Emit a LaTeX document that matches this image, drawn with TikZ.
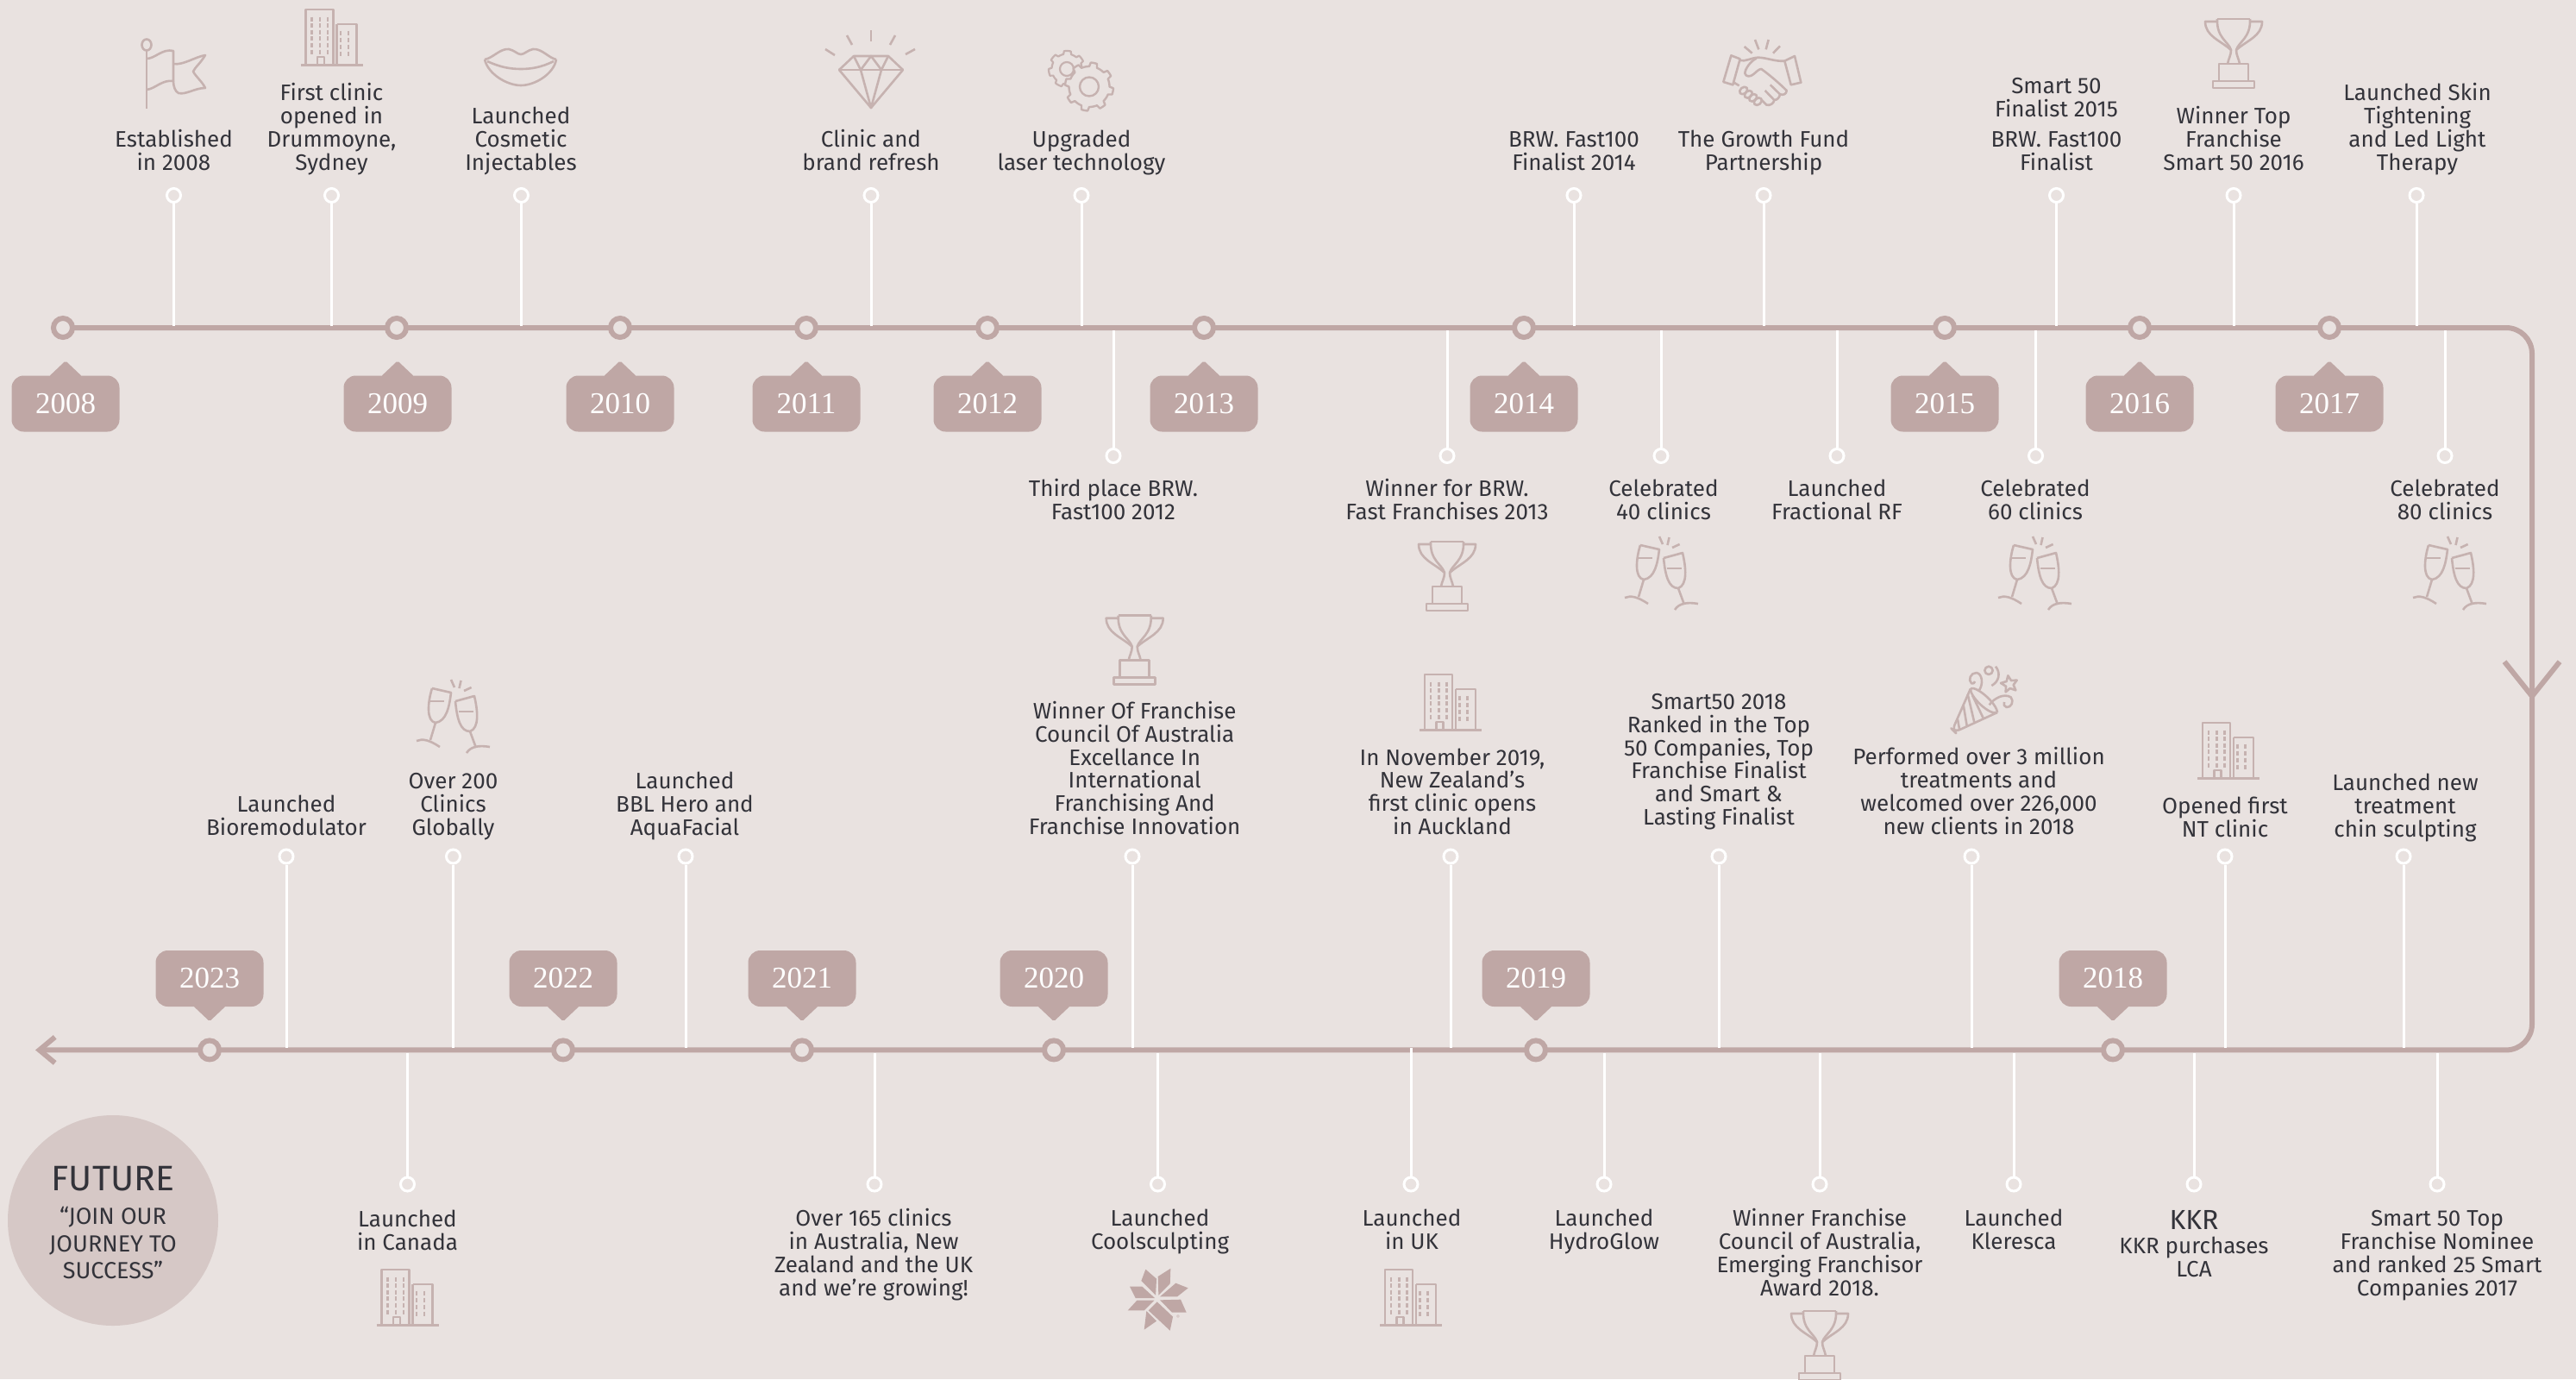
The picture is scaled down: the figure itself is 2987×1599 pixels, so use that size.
\documentclass[tikz,border=0pt]{standalone}
\usepackage{fontspec}
\setsansfont{Fira Sans}
\newfontfamily\yearfont{Liberation Serif}
\usepackage{tikz}
\usetikzlibrary{arrows.meta,positioning,calc}

\definecolor{pagecol}{HTML}{E9E2E0}
\definecolor{linecol}{HTML}{BFA7A5}
\definecolor{iconcol}{HTML}{C6B2B0}
\definecolor{inkcol}{HTML}{33333A}
\definecolor{futurecol}{HTML}{D6C8C6}

\newcommand{\evfont}{\sffamily\fontsize{26}{26.8}\selectfont}

\tikzset{
  mainline/.style={draw=linecol, line width=6pt},
  stem/.style={draw=white, line width=3pt},
  dot/.style={circle, draw=white, line width=3pt, fill=pagecol, minimum size=16pt, inner sep=0pt},
  yearring/.style={circle, draw=linecol, line width=6pt, fill=pagecol, minimum size=22pt, inner sep=0pt},
  yeartag/.style={rectangle, rounded corners=14pt, fill=linecol, text=white, minimum width=125pt, minimum height=65pt, inner sep=0pt, font=\yearfont\fontsize{35}{35}\selectfont},
  evt/.style={font=\evfont, align=center, anchor=base, text=inkcol, inner sep=0pt, yshift=-1.5pt},
  icon/.style={draw=iconcol, line width=2.6pt, line join=round},
  pics/tower/.style={code={
    \draw[icon, line width=3.2pt] (-36,-1.5) -- (36,-1.5);
    \draw[icon] (-30,-1.5) -- (-30,-66) -- (2,-66) -- (2,-1.5);
    \draw[icon] (6,-49) -- (29,-49) -- (29,-1.5);
    \draw[icon] (6,-49) -- (6,-1.5);
    \draw[icon] (-16.5,-1.5) -- (-16.5,-11) -- (-8.5,-11) -- (-8.5,-1.5);
    \foreach \wx in {-23,-13.5,-4.5} \foreach \wy in {-55,-47.4,-39.8,-32.2,-24.6,-17}
      \draw[icon, line width=2.8pt] (\wx,\wy-2.5) -- (\wx,\wy+2.5);
    \foreach \wx in {10.5,19.5} \foreach \wy in {-39,-31,-23,-15}
      \draw[icon, line width=2.8pt] (\wx,\wy-2.5) -- (\wx,\wy+2.5);
  }},
  pics/trophy/.style={code={
    \draw[icon] (-24,-8) rectangle (24,0);
    \draw[icon] (-17,-28) rectangle (17,-8);
    \draw[icon] (-19,-80) -- (19,-80);
    \draw[icon] (-19,-80) .. controls (-20,-58) and (-6,-54) .. (-3,-44) .. controls (-3,-38) and (-6,-34) .. (-7,-28);
    \draw[icon] (19,-80) .. controls (20,-58) and (6,-54) .. (3,-44) .. controls (3,-38) and (6,-34) .. (7,-28);
    \draw[icon] (-19,-77) -- (-33,-77) .. controls (-33,-60) and (-15,-55) .. (-3,-44);
    \draw[icon] (19,-77) -- (33,-77) .. controls (33,-60) and (15,-55) .. (3,-44);
  }},
  pics/toast/.style={code={
    \draw[icon] (-25,-76) -- (-3,-71) .. controls (-5,-55) and (-8,-38) .. (-21,-36) .. controls (-32,-38) and (-30,-60) .. (-25,-76);
    \draw[icon] (-27,-61) -- (-11,-61);
    \draw[icon] (-21,-36) -- (-27,-16);
    \draw[icon] (-43,-15) .. controls (-36,-18) and (-28,-16) .. (-16,-8);
    \draw[icon] (2,-61) -- (24,-67) .. controls (28,-50) and (30,-30) .. (19,-26) .. controls (8,-26) and (4,-40) .. (2,-61);
    \draw[icon] (6,-49) -- (23,-49);
    \draw[icon] (19,-26) -- (26,-7);
    \draw[icon] (15,-1) .. controls (20,-9) and (30,-10) .. (42,-8);
    \draw[icon] (-3,-86) -- (1,-77);
    \draw[icon] (8.5,-85) -- (6.5,-76);
    \draw[icon] (20.6,-77) -- (12,-73);
  }}
}

\begin{document}
\begin{tikzpicture}[x=1pt, y=-1pt]

\useasboundingbox (0,0) rectangle (2987,1599);
\fill[pagecol] (0,0) rectangle (2987,1599);

% The road: top row, round the corner, bottom row

\coordinate (roadstart) at (73,380);
\coordinate (cornerA) at (2936,380);
\coordinate (cornerB) at (2936,1217.4);
\coordinate (roadend) at (41,1217.4);
\coordinate (midtip) at (2936,812);

\draw[mainline, rounded corners=30pt, -{Straight Barb[length=18pt,width=30pt]}] (roadstart) -- (cornerA) -- (cornerB) -- (roadend);
\draw[mainline, -{Straight Barb[length=40pt,width=64pt]}] (2936,700) -- (midtip);

\coordinate (upA) at (0,377.5);
\coordinate (dnA) at (0,383);
\coordinate (upB) at (0,1214.7);
\coordinate (dnB) at (0,1220.5);

% Years along the top row

\node[yearring] (y2008) at (73,380) {};
\node[yearring] (y2009) at (460,380) {};
\node[yearring] (y2010) at (719,380) {};
\node[yearring] (y2011) at (935,380) {};
\node[yearring] (y2012) at (1145,380) {};
\node[yearring] (y2013) at (1396,380) {};
\node[yearring] (y2014) at (1767,380) {};
\node[yearring] (y2015) at (2255,380) {};
\node[yearring] (y2016) at (2481,380) {};
\node[yearring] (y2017) at (2701,380) {};

\node[yeartag] (t2008) at (76,468) {2008};
\node[yeartag] (t2009) at (461,468) {2009};
\node[yeartag] (t2010) at (719,468) {2010};
\node[yeartag] (t2011) at (935,468) {2011};
\node[yeartag] (t2012) at (1145,468) {2012};
\node[yeartag] (t2013) at (1396,468) {2013};
\node[yeartag] (t2014) at (1767,468) {2014};
\node[yeartag] (t2015) at (2255,468) {2015};
\node[yeartag] (t2016) at (2481,468) {2016};
\node[yeartag] (t2017) at (2701,468) {2017};

\foreach \tg in {t2008,t2009,t2010,t2011,t2012,t2013,t2014,t2015,t2016,t2017}
  \fill[linecol, rounded corners=2pt] ([xshift=-19pt,yshift=-1pt]\tg.north) -- ++(19,-18) -- ++(19,18) -- cycle;

% Years along the bottom row

\node[yearring] (y2023) at (243,1217.4) {};
\node[yearring] (y2022) at (653,1217.4) {};
\node[yearring] (y2021) at (930,1217.4) {};
\node[yearring] (y2020) at (1222,1217.4) {};
\node[yearring] (y2019) at (1781,1217.4) {};
\node[yearring] (y2018) at (2450,1217.4) {};

\node[yeartag] (t2023) at (243,1134.5) {2023};
\node[yeartag] (t2022) at (653,1134.5) {2022};
\node[yeartag] (t2021) at (930,1134.5) {2021};
\node[yeartag] (t2020) at (1222,1134.5) {2020};
\node[yeartag] (t2019) at (1781,1134.5) {2019};
\node[yeartag] (t2018) at (2450,1134.5) {2018};

\foreach \tg in {t2023,t2022,t2021,t2020,t2019,t2018}
  \fill[linecol, rounded corners=2pt] ([xshift=-19pt,yshift=1pt]\tg.south) -- ++(19,18) -- ++(19,-18) -- cycle;

% Top row, above the road

\node[dot] (a1) at (201.5,226.5) {};
\node[dot] (a2) at (384.5,226.5) {};
\node[dot] (a3) at (604.5,226.5) {};
\node[dot] (a4) at (1010,226.5) {};
\node[dot] (a5) at (1254,226.5) {};
\node[dot] (a6) at (1825,226.5) {};
\node[dot] (a7) at (2045,226.5) {};
\node[dot] (a8) at (2384.5,226.5) {};
\node[dot] (a9) at (2590,226.5) {};
\node[dot] (a10) at (2802,226.5) {};

\draw[stem] (a1) -- (a1 |- upA);
\draw[stem] (a2) -- (a2 |- upA);
\draw[stem] (a3) -- (a3 |- upA);
\draw[stem] (a4) -- (a4 |- upA);
\draw[stem] (a5) -- (a5 |- upA);
\draw[stem] (a6) -- (a6 |- upA);
\draw[stem] (a7) -- (a7 |- upA);
\draw[stem] (a8) -- (a8 |- upA);
\draw[stem] (a9) -- (a9 |- upA);
\draw[stem] (a10) -- (a10 |- upA);

\node[evt] (ta1) at (201.5,195.6) {Established\\in 2008};
\node[evt] (ta2) at (384.5,195.6) {First clinic\\opened in\\Drummoyne,\\Sydney};
\node[evt] (ta3) at (604,195.6) {Launched\\Cosmetic\\Injectables};
\node[evt] (ta4) at (1010,195.6) {Clinic and\\brand refresh};
\node[evt] (ta5) at (1254,195.6) {Upgraded\\laser technology};
\node[evt] (ta6) at (1825,195.6) {BRW. Fast100\\Finalist 2014};
\node[evt] (ta7) at (2045,195.6) {The Growth Fund\\Partnership};
\node[evt] (ta8) at (2384.5,196) {BRW. Fast100\\Finalist};
\node[evt] (ta8b) at (2384.5,134) {Smart 50\\Finalist 2015};
\node[evt] (ta9) at (2590,195.6) {Winner Top\\Franchise\\Smart 50 2016};
\node[evt] (ta10) at (2803,195.6) {Launched Skin\\Tightening\\and Led Light\\Therapy};

% Top row, below the road

\node[dot] (b1) at (1291,528.5) {};
\node[dot] (b2) at (1678,528.5) {};
\node[dot] (b3) at (1926,528.5) {};
\node[dot] (b4) at (2130,528.5) {};
\node[dot] (b5) at (2360.5,528.5) {};
\node[dot] (b6) at (2835,528.5) {};

\draw[stem] (b1) -- (b1 |- dnA);
\draw[stem] (b2) -- (b2 |- dnA);
\draw[stem] (b3) -- (b3 |- dnA);
\draw[stem] (b4) -- (b4 |- dnA);
\draw[stem] (b5) -- (b5 |- dnA);
\draw[stem] (b6) -- (b6 |- dnA);

\node[evt] (tb1) at (1291,600.7) {Third place BRW.\\Fast100 2012};
\node[evt] (tb2) at (1678,600.7) {Winner for BRW.\\Fast Franchises 2013};
\node[evt] (tb3) at (1929,600.7) {Celebrated\\40 clinics};
\node[evt] (tb4) at (2130,600.7) {Launched\\Fractional RF};
\node[evt] (tb5) at (2360,600.7) {Celebrated\\60 clinics};
\node[evt] (tb6) at (2835,600.7) {Celebrated\\80 clinics};

% Bottom row, above the road

\node[dot] (c1) at (332,993) {};
\node[dot] (c2) at (525.5,993) {};
\node[dot] (c3) at (795,993) {};
\node[dot] (c4) at (1313,993) {};
\node[dot] (c5) at (1682,993) {};
\node[dot] (c6) at (1993,993) {};
\node[dot] (c7) at (2286,993) {};
\node[dot] (c8) at (2580,993) {};
\node[dot] (c9) at (2787,993) {};

\draw[stem] (c1) -- (c1 |- upB);
\draw[stem] (c2) -- (c2 |- upB);
\draw[stem] (c3) -- (c3 |- upB);
\draw[stem] (c4) -- (c4 |- upB);
\draw[stem] (c5) -- (c5 |- upB);
\draw[stem] (c6) -- (c6 |- upB);
\draw[stem] (c7) -- (c7 |- upB);
\draw[stem] (c8) -- (c8 |- upB);
\draw[stem] (c9) -- (c9 |- upB);

\node[evt] (tc1) at (332,967) {Launched\\Bioremodulator};
\node[evt] (tc2) at (525.5,967) {Over 200\\Clinics\\Globally};
\node[evt] (tc3) at (794,967) {Launched\\BBL Hero and\\AquaFacial};
\node[evt] (tc4) at (1315.7,966) {Winner Of Franchise\\Council Of Australia\\Excellance In\\International\\Franchising And\\Franchise Innovation};
\node[evt] (tc5) at (1684,966) {In November 2019,\\New Zealand’s\\first clinic opens\\in Auckland};
\node[evt] (tc6) at (1993,955) {Smart50 2018\\Ranked in the Top\\50 Companies, Top\\Franchise Finalist\\and Smart \&\\Lasting Finalist};
\node[evt] (tc7) at (2294.5,965.7) {Performed over 3 million\\treatments and\\welcomed over 226,000\\new clients in 2018};
\node[evt] (tc8) at (2580,969) {Opened first\\NT clinic};
\node[evt] (tc9) at (2789,969) {Launched new\\treatment\\chin sculpting};

% Bottom row, below the road

\node[dot] (d1) at (472.5,1373) {};
\node[dot] (d2) at (1014,1373) {};
\node[dot] (d3) at (1342.5,1373) {};
\node[dot] (d4) at (1636,1373) {};
\node[dot] (d5) at (1860,1373) {};
\node[dot] (d6) at (2110,1373) {};
\node[dot] (d7) at (2335,1373) {};
\node[dot] (d8) at (2544,1373) {};
\node[dot] (d9) at (2826,1373) {};

\draw[stem] (d1) -- (d1 |- dnB);
\draw[stem] (d2) -- (d2 |- dnB);
\draw[stem] (d3) -- (d3 |- dnB);
\draw[stem] (d4) -- (d4 |- upB);
\draw[stem] (d5) -- (d5 |- dnB);
\draw[stem] (d6) -- (d6 |- dnB);
\draw[stem] (d7) -- (d7 |- dnB);
\draw[stem] (d8) -- (d8 |- dnB);
\draw[stem] (d9) -- (d9 |- dnB);

\node[evt] (td1) at (472.5,1448) {Launched\\in Canada};
\node[evt] (td2) at (1013,1500.7) {Over 165 clinics\\in Australia, New\\Zealand and the UK\\and we’re growing!};
\node[evt] (td3) at (1345,1447) {Launched\\Coolsculpting};
\node[evt] (td4) at (1637,1447) {Launched\\in UK};
\node[evt] (td5) at (1860,1447) {Launched\\HydroGlow};
\node[evt] (td6) at (2110,1500.7) {Winner Franchise\\Council of Australia,\\Emerging Franchisor\\Award 2018.};
\node[evt] (td7) at (2335,1447) {Launched\\Kleresca};
\node[evt, font=\sffamily\fontsize{32}{32}\selectfont] (td8b) at (2544,1424) {KKR};
\node[evt] (td8) at (2544,1479) {KKR purchases\\LCA};
\node[evt] (td9) at (2826,1500.7) {Smart 50 Top\\Franchise Nominee\\and ranked 25 Smart\\Companies 2017};

% Future

\node[circle, fill=futurecol, minimum size=244pt, inner sep=0pt] (future) at (131,1415) {};
\node[evt, font=\sffamily\fontsize{41}{41}\selectfont] (futurehead) at (131,1379) {FUTURE};
\node[evt, font=\sffamily\fontsize{27}{31.3}\selectfont] (futurequote) at (131,1481) {“JOIN OUR\\JOURNEY TO\\SUCCESS”};

% Icons, top row

% flag
\draw[icon] (170,58) -- (170,126);
\draw[icon] (170,52) ellipse (5.5 and 6.5);
\draw[icon] (170,68) .. controls (180,68) and (188,56) .. (201,59) -- (201,94) .. controls (188,92) and (180,103) .. (170,104);
\draw[icon] (201,74) .. controls (212,76) and (226,66) .. (238,64) .. controls (232,74) and (226,78) .. (224,83) .. controls (228,90) and (234,94) .. (238,102) .. controls (226,102) and (216,110) .. (207,108) .. controls (203,106) and (201,100) .. (201,94);

\pic at (384.5,77) {tower};

% lips
\draw[icon] (562,69) .. controls (572,67) and (580,56) .. (590,57) .. controls (596,58) and (600,63) .. (604,63) .. controls (608,63) and (612,58) .. (618,57) .. controls (628,56) and (636,67) .. (645,69);
\draw[icon] (562,69) .. controls (566,86) and (588,99) .. (604,99) .. controls (620,99) and (642,86) .. (645,69);
\draw[icon] (565,71) .. controls (580,78) and (592,80) .. (604,80) .. controls (616,80) and (628,78) .. (642,71);

% diamond
\draw[icon] (990,65) -- (1030,65) -- (1047,81) -- (1010,125) -- (973,81) -- cycle;
\draw[icon] (973,81) -- (1047,81);
\draw[icon] (990,65) -- (998,81) -- (1010,125) -- (1022,81) -- (1030,65);
\draw[icon] (998,81) -- (1010,65) -- (1022,81);
\draw[icon] (957,57) -- (968,64);
\draw[icon] (982,41) -- (988,52);
\draw[icon] (1010,35) -- (1010,48);
\draw[icon] (1038,41) -- (1032,52);
\draw[icon] (1061,57) -- (1050,63);

% gears
\draw[icon, line width=2.2pt, shift={(1237,80)}] plot[domain=0:360, samples=85] (\x:{17.5+3.5*(sin(7*\x)>0?1:0)}) -- cycle;
\draw[icon, line width=2.2pt] (1237,80) circle (8);
\draw[icon, fill=pagecol, line width=2.4pt, shift={(1263,100.5)}] plot[domain=0:360, samples=97] (\x:{23.5+4.5*(sin(8*\x)>0?1:0)}) -- cycle;
\draw[icon, line width=2.4pt] (1263,100.5) circle (11);

% handshake
\begin{scope}[shift={(1980,30)}, scale=0.3333]
\draw[icon] (82,103) -- (113,115) -- (88,205) -- (55,195) -- cycle;
\draw[icon] (268,122) -- (303,105) -- (325,197) -- (290,205) -- cycle;
\draw[icon] (113,120) .. controls (130,125) and (150,112) .. (175,110) .. controls (205,110) and (235,125) .. (268,122);
\draw[icon] (170,113) .. controls (150,122) and (130,150) .. (130,165) .. controls (132,178) and (150,178) .. (160,168) .. controls (170,160) and (178,150) .. (187,150) .. controls (215,170) and (250,200) .. (275,225) .. controls (275,238) and (262,242) .. (252,238);
\draw[icon] (218,205) -- (252,238) .. controls (250,250) and (242,258) .. (232,258) -- (200,225);
\draw[icon] (232,258) .. controls (230,270) and (218,278) .. (205,275) -- (188,258);
\draw[icon] (88,195) -- (110,208);
\draw[icon, rotate around={40:(125,225)}] (125,225) ellipse (15 and 11);
\draw[icon, rotate around={40:(142,238)}] (142,238) ellipse (15 and 11);
\draw[icon, rotate around={40:(158,250)}] (158,250) ellipse (15 and 11);
\draw[icon, rotate around={40:(175,263)}] (175,263) ellipse (15 and 11);
\draw[icon] (128,72) -- (155,95);
\draw[icon] (165,48) -- (178,82);
\draw[icon] (212,48) -- (203,82);
\draw[icon] (252,70) -- (228,95);
\end{scope}

\pic at (2590,102) {trophy};

% Icons, under the top row

\pic at (1678,708) {trophy};
\pic at (1927,708) {toast};
\pic at (2360,708) {toast};
\pic at (2841,708) {toast};

% Icons, bottom row

\pic at (526,874) {toast};
\pic at (1315.7,793.7) {trophy};
\pic at (1682,848) {tower};
\pic at (2584,904) {tower};

% party popper
\begin{scope}[shift={(2250,760)}, scale=0.3333]
\draw[icon, rounded corners=6pt] (105,115) -- (42,258) -- (50,266) -- (198,198);
\draw[icon] (105,115) .. controls (125,105) and (195,165) .. (198,198);
\draw[icon] (105,115) .. controls (100,140) and (170,210) .. (198,198);
\draw[icon] (60,222) -- (66,256);
\draw[icon] (80,172) -- (92,244);
\draw[icon] (95,135) -- (118,233);
\draw[icon] (112,140) -- (150,220);
\draw[icon] (132,125) .. controls (152,100) and (145,62) .. (125,60) .. controls (105,60) and (95,85) .. (108,97) .. controls (114,100) and (120,95) .. (120,90);
\draw[icon] (168,52) circle (14);
\draw[icon] (192,38) .. controls (210,60) and (205,90) .. (178,105);
\draw[icon] (235,70) -- (246,87) -- (266,86) -- (254,102) -- (262,121) -- (242,114) -- (227,127) -- (228,107) -- (210,96) -- (230,90) -- cycle;
\draw[icon] (170,172) .. controls (185,150) and (220,130) .. (245,145) .. controls (258,160) and (245,182) .. (230,180) .. controls (222,178) and (218,170) .. (222,162);
\end{scope}

\pic at (472.5,1538) {tower};
\pic at (1636,1538) {tower};
\pic at (2110,1600) {trophy};

% coolsculpting flower
\begin{scope}[shift={(1341.7,1505)}, scale=0.3333]
\fill[linecol] (-40,-100) -- (-2,-67) -- (-5,-10) -- (-55,-60) -- cycle;
\fill[linecol] (47,-103) -- (45,-50) -- (5,-10) -- (3,-75) -- cycle;
\fill[linecol] (65,-52) -- (108,-35) -- (70,-5) -- (10,-5) -- cycle;
\fill[linecol] (10,7) -- (82,5) -- (102,50) -- (52,50) -- cycle;
\fill[linecol] (0,13) -- (55,65) -- (45,113) -- (-30,43) -- cycle;
\fill[linecol] (-37,45) -- (-2,80) -- (-45,110) -- cycle;
\fill[linecol] (-102,43) -- (-70,8) -- (-10,8) -- (-45,43) -- cycle;
\fill[linecol] (-95,-40) -- (-52,-40) -- (-8,0) -- (-75,0) -- cycle;
\end{scope}
\node[font=\sffamily\fontsize{6}{6}\selectfont, text=linecol, inner sep=0pt] (regmark) at (1366,1527) {®};

\end{tikzpicture}
\end{document}
